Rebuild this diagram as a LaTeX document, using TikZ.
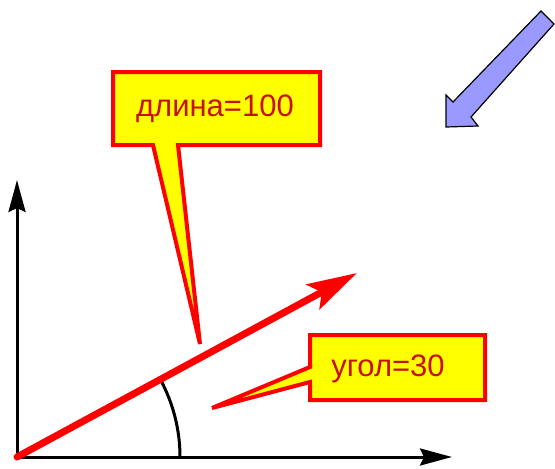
\documentclass[tikz,border=0pt]{standalone}
\usepackage{fontspec}
\setmainfont{Liberation Sans}
\usetikzlibrary{arrows.meta}
\definecolor{boxred}{RGB}{255,0,0}
\definecolor{txtred}{RGB}{200,16,0}
\definecolor{boxyellow}{RGB}{255,255,0}
\definecolor{bluearrow}{RGB}{153,153,255}
\tikzset{
  axis/.style={line width=3pt, black, -{Stealth[length=32pt, width=17pt, inset=4pt]}},
  vec/.style={line width=7pt, boxred, -{Stealth[length=50pt, width=28pt, inset=10pt]}},
  callout/.style={draw=boxred, fill=boxyellow, line width=4pt, line join=miter, miter limit=2},
  label/.style={text=txtred, font=\fontsize{31}{33}\selectfont, inner sep=0pt},
  anglearc/.style={line width=3pt, black},
  blockarrow/.style={draw=black, fill=bluearrow, line width=1.2pt, line join=miter}
}
\begin{document}
\begin{tikzpicture}[x=1pt, y=-1pt]
\useasboundingbox (0,0) rectangle (555,469);
\coordinate (O) at (17,457);
\coordinate (X) at (452,457);
\coordinate (Y) at (17,180);
\coordinate (V) at (357,273);
% axes
\draw[axis] (O) -- (X);
\draw[axis] (O) -- (Y);
% angle arc
\draw[anglearc] (180,457) arc[start angle=0, end angle=-28.5, radius=163];
% callout 1
\draw[callout] (113,72) -- (320,72) -- (320,145) -- (178,145) -- (200,344) -- (153,145) -- (113,145) -- cycle;
\node[label] (len) at (215,109) {длина=100};
% vector
\draw[vec, line cap=round] (O) -- (V);
% callout 2
\draw[callout] (310,335) -- (485,335) -- (485,400) -- (310,400) -- (310,382) -- (212,408) -- (310,367) -- cycle;
\node[label] (ang) at (388,369) {угол=30};
% block arrow
\draw[blockarrow] (446,127) -- (446,95) -- (453,102) -- (541,11) -- (554,24) -- (471,117) -- (478,126) -- cycle;
\end{tikzpicture}
\end{document}
